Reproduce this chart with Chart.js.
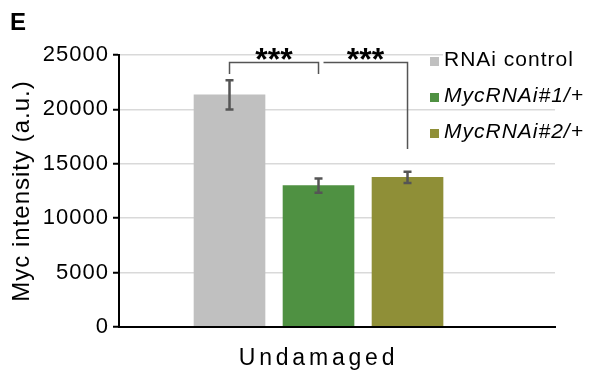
<!DOCTYPE html>
<html>
<head>
<meta charset="utf-8">
<script src="https://cdn.jsdelivr.net/npm/chart.js@4/dist/chart.umd.min.js"></script>
<style>
  html, body { margin: 0; padding: 0; background: #fff; }
</style>
</head>
<body>
<canvas id="myChart" width="594" height="373"></canvas>
<script>
// data
const categories = ['Undamaged'];
const seriesNames = ['RNAi control', 'MycRNAi#1/+', 'MycRNAi#2/+'];
const seriesMeans = [21330, 13000, 13750];
const seriesErrors = [1350, 650, 520];
const seriesColors = ['#c0c0c0', '#4f9142', '#8f8f37'];
const yTicks = [0, 5000, 10000, 15000, 20000, 25000];
const sigLabels = ['***', '***'];

const FONT = 'Liberation Sans, Arial, Helvetica, sans-serif';

// bracket heights in data units: bar from, bar to, left leg end, right leg end
const brackets = [
    { from: 0, to: 1, top: 24300, leftEnd: 23250, rightEnd: 23250, gap: 0 },
    { from: 1, to: 2, top: 24300, leftEnd: null, rightEnd: 16350, gap: 5 }
];

const extras = {
    id: 'extras',
    beforeDraw(chart) {
        chart.ctx.letterSpacing = '1px';
    },
    afterDatasetsDraw(chart) {
        const ctx = chart.ctx, x = chart.scales.x, y = chart.scales.y;
        ctx.save();
        ctx.strokeStyle = '#555';
        ctx.lineWidth = 2.5;
        seriesMeans.forEach((m, i) => {
            const px = x.getPixelForValue(i + 1);
            const top = y.getPixelForValue(m + seriesErrors[i]);
            const bot = y.getPixelForValue(m - seriesErrors[i]);
            ctx.beginPath();
            ctx.moveTo(px, top); ctx.lineTo(px, bot);
            ctx.moveTo(px - 4, top); ctx.lineTo(px + 4, top);
            ctx.moveTo(px - 4, bot); ctx.lineTo(px + 4, bot);
            ctx.stroke();
        });
        ctx.restore();
        // the category label is drawn after this hook (ticks z:1), wider spacing
        ctx.letterSpacing = '3.8px';
    },
    afterDraw(chart) {
        const ctx = chart.ctx, x = chart.scales.x, y = chart.scales.y, area = chart.chartArea;
        ctx.save();
        ctx.letterSpacing = '0px';

        // significance brackets
        ctx.strokeStyle = '#555';
        ctx.lineWidth = 1.5;
        brackets.forEach((b, k) => {
            const x1 = x.getPixelForValue(b.from + 1) + b.gap;
            const x2 = x.getPixelForValue(b.to + 1);
            const yt = y.getPixelForValue(b.top);
            ctx.beginPath();
            if (b.leftEnd !== null) {
                ctx.moveTo(x1, y.getPixelForValue(b.leftEnd));
                ctx.lineTo(x1, yt);
            } else {
                ctx.moveTo(x1, yt);
            }
            ctx.lineTo(x2, yt);
            ctx.lineTo(x2, y.getPixelForValue(b.rightEnd));
            ctx.stroke();

            ctx.fillStyle = '#000';
            ctx.font = 'bold 32px ' + FONT;
            ctx.textAlign = 'center';
            ctx.textBaseline = 'alphabetic';
            ctx.fillText(sigLabels[k], (x1 + x2) / 2, yt + 7);
        });

        // legend
        ctx.letterSpacing = '1px';
        ctx.textAlign = 'left';
        ctx.textBaseline = 'alphabetic';
        seriesNames.forEach((name, i) => {
            const lx = area.right - 125;
            const by = area.top + 11 + 36 * i;
            ctx.font = (i > 0 ? 'italic ' : '') + '21px ' + FONT;
            const w = ctx.measureText(name).width;
            ctx.fillStyle = '#fff';
            ctx.fillRect(lx + 13, by - 18, w + 2, 24);
            ctx.fillStyle = seriesColors[i];
            ctx.fillRect(lx, by - 9, 9, 9);
            ctx.fillStyle = '#000';
            ctx.fillText(name, lx + 14, by);
        });

        // panel letter
        ctx.letterSpacing = '0px';
        ctx.font = 'bold 24px ' + FONT;
        ctx.fillStyle = '#000';
        ctx.fillText('E', 10, 30);
        ctx.restore();
    }
};

const ctx = document.getElementById('myChart').getContext('2d');
const myChart = new Chart(ctx, {
    type: 'bar',
    data: {
        datasets: seriesNames.map((name, i) => ({
            label: name,
            data: [{ x: i + 1, y: seriesMeans[i] }],
            backgroundColor: seriesColors[i],
            barThickness: 71,
            grouped: false
        }))
    },
    options: {
        responsive: false,
        animation: false,
        layout: { padding: { left: 8, right: 39, top: 55, bottom: 0 } },
        plugins: {
            legend: { display: false },
            tooltip: { enabled: false }
        },
        scales: {
            x: {
                type: 'linear',
                offset: false,
                min: -0.2416,
                max: 4.657,
                afterBuildTicks: s => { s.ticks = categories.map(() => ({ value: (seriesNames.length + 1) / 2 })); },
                ticks: {
                    z: 1,
                    autoSkip: false,
                    maxRotation: 0,
                    padding: 18,
                    color: '#000',
                    font: { family: FONT, size: 23 },
                    callback: (v, i) => categories[i]
                },
                grid: { display: false, drawTicks: false, offset: false },
                border: { display: true, color: '#000', width: 2, z: 1 },
                afterFit: s => { s.height = 46; }
            },
            y: {
                min: 0,
                max: 25000,
                afterBuildTicks: s => { s.ticks = yTicks.map(v => ({ value: v })); },
                ticks: { padding: 4, color: '#000', font: { family: FONT, size: 22 }, callback: v => String(v) },
                grid: { color: '#d9d9d9', lineWidth: 1.5, tickColor: '#000', tickLength: 6, tickWidth: 2 },
                border: { color: '#000', width: 2 },
                title: {
                    display: true,
                    text: 'Myc intensity (a.u.)',
                    color: '#000',
                    padding: 0,
                    font: { family: FONT, size: 24 }
                },
                afterFit: s => { s.width = 111; }
            }
        }
    },
    plugins: [extras]
});
</script>
</body>
</html>
